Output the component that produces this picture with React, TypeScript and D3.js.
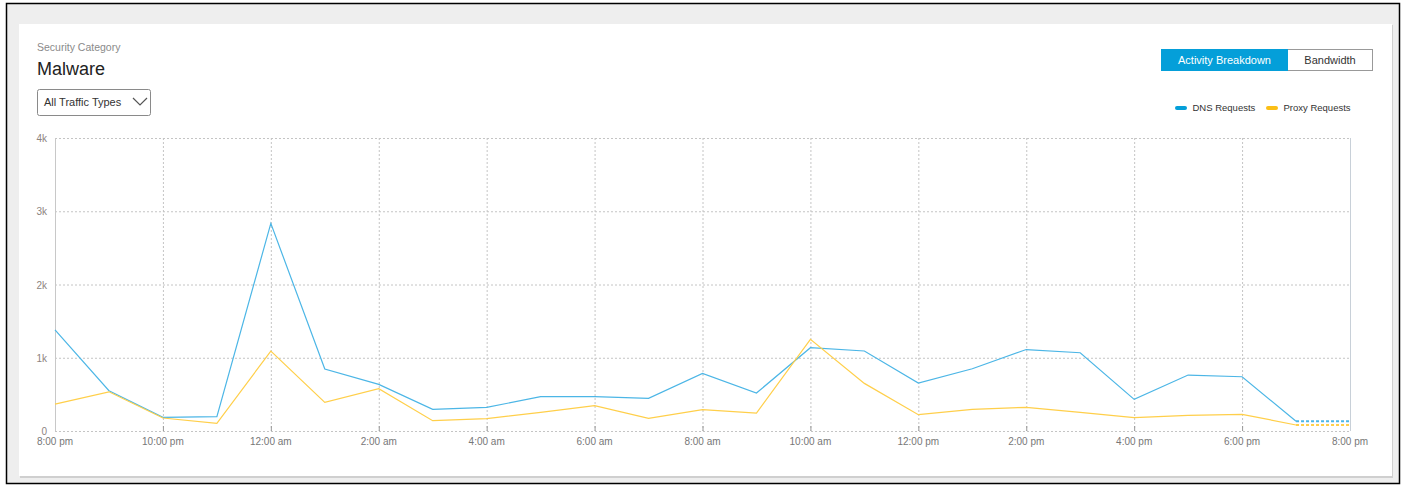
import * as d3 from 'd3';

// hourly buckets, starting 8:00 pm
const START = new Date(2018, 0, 1, 20, 0);
const HOURS = 24;

const dnsRequests = [1380, 550, 187, 195, 2834, 846, 637, 296, 323, 468, 468, 446, 787, 518, 1137, 1092, 655, 850, 1112, 1068, 432, 764, 741, 132];
const proxyRequests = [368, 535, 177, 105, 1091, 391, 577, 141, 168, 255, 345, 173, 291, 245, 1251, 650, 223, 296, 323, 255, 182, 214, 228, 82];
const yTicks = [0, 1000, 2000, 3000, 4000];

const seriesNames = ['DNS Requests', 'Proxy Requests'];
const seriesColors = ['#049fd9', '#fbbf16'];
const lineColors = ['#4cb6e6', '#ffcf4a'];

const W = 1406;
const H = 489;
const plot = { left: 55, right: 1350, top: 138, bottom: 431 };
const FONT = '"Liberation Sans", Arial, sans-serif';

const hourAt = (i: number) => d3.timeHour.offset(START, i);

export default function App() {
  const x = d3
    .scaleTime()
    .domain([START, hourAt(HOURS)])
    .range([plot.left, plot.right]);
  const y = d3.scaleLinear().domain([0, 4000]).range([plot.bottom, plot.top]);

  const xTicks = x.ticks(d3.timeHour.every(2) as d3.TimeInterval);
  const fmt = d3.timeFormat('%-I:%M %p');
  const xLabel = (d: Date) => fmt(d).toLowerCase();
  const yLabel = (v: number) => (v === 0 ? '0' : `${v / 1000}k`);

  const line = d3
    .line<number>()
    .x((_, i) => x(hourAt(i)))
    .y((d) => y(d));

  const all = [dnsRequests, proxyRequests];

  return (
    <div style={{ position: 'absolute', left: 0, top: 0 }}>
      <svg width={W} height={H} style={{ display: 'block', fontFamily: FONT }}>
        <rect x={0} y={0} width={W} height={H} fill="#ffffff" />
        <rect x={6.5} y={3.5} width={1393} height={480} fill="#eeeeee" stroke="#000" strokeWidth={1.5} />
        {/* card */}
        <rect x={20} y={25} width={1373} height={453} fill="#cfcfcf" />
        <rect x={19} y={24} width={1373} height={452} fill="#ffffff" />

        <text x={37} y={51} fontSize={10.5} fill="#8a8a8a">Security Category</text>
        <text x={37} y={75} fontSize={18} fill="#222">Malware</text>

        {/* dropdown */}
        <rect x={37.5} y={89.5} width={113} height={26} rx={2} fill="#fff" stroke="#8a8a8a" />
        <text x={44} y={106} fontSize={11} fill="#333">All Traffic Types</text>
        <polyline points="133,98 140,105 147,98" fill="none" stroke="#555" strokeWidth={1.2} />

        {/* toggle buttons */}
        <rect x={1161.5} y={49.5} width={211} height={21} fill="#fff" stroke="#999" />
        <rect x={1161} y={49} width={127} height={22} fill="#049fd9" />
        <text x={1224.5} y={64} fontSize={11} fill="#fff" textAnchor="middle">Activity Breakdown</text>
        <text x={1330} y={64} fontSize={11} fill="#333" textAnchor="middle">Bandwidth</text>

        {/* legend */}
        {seriesNames.map((name, i) => {
          const lx = i === 0 ? 1175 : 1266;
          return (
            <g key={name}>
              <rect x={lx} y={106} width={12} height={4} rx={2} fill={seriesColors[i]} />
              <text x={lx + 17.5} y={111} fontSize={9.5} fill="#333">{name}</text>
            </g>
          );
        })}

        {/* grid */}
        {yTicks.map((v) => (
          <g key={v}>
            <line x1={plot.left} x2={plot.right} y1={y(v) + 0.5} y2={y(v) + 0.5} stroke="#c4c4c4" strokeDasharray="2,2" />
            <text x={47} y={y(v) + 4} fontSize={10} fill="#8d8480" textAnchor="end">{yLabel(v)}</text>
          </g>
        ))}
        {xTicks.map((t, i) => (
          <g key={i}>
            {i > 0 && i < xTicks.length - 1 && (
              <line x1={x(t) + 0.5} x2={x(t) + 0.5} y1={plot.top} y2={plot.bottom} stroke="#c4c4c4" strokeDasharray="2,2" />
            )}
            <line x1={x(t) + 0.5} x2={x(t) + 0.5} y1={plot.bottom - 5} y2={plot.bottom} stroke="#999" />
            <text x={x(t)} y={445} fontSize={10} fill="#777" textAnchor="middle">{xLabel(t)}</text>
          </g>
        ))}
        <line x1={plot.left + 0.5} x2={plot.left + 0.5} y1={plot.top} y2={plot.bottom} stroke="#c8c8c8" />
        <line x1={plot.right + 0.5} x2={plot.right + 0.5} y1={plot.top} y2={plot.bottom} stroke="#c8d0d8" />

        {/* series */}
        {all.map((vals, s) => {
          const last = vals[vals.length - 1];
          return (
            <g key={s}>
              <path d={line(vals) ?? ''} fill="none" stroke={lineColors[s]} strokeWidth={1.2} />
              <line
                x1={x(hourAt(vals.length - 1))}
                x2={x(hourAt(HOURS))}
                y1={y(last)}
                y2={y(last)}
                stroke={lineColors[s]}
                strokeWidth={2}
                strokeDasharray="3,2"
              />
            </g>
          );
        })}
      </svg>
    </div>
  );
}
